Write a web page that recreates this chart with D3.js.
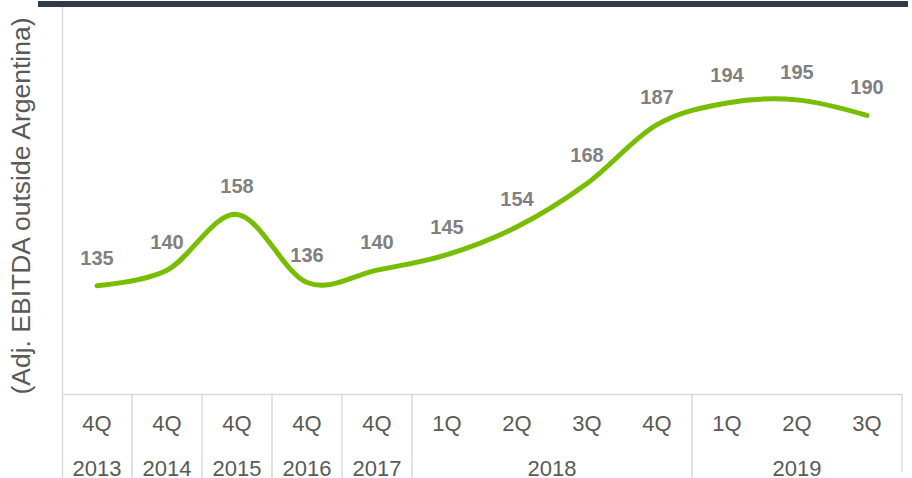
<!DOCTYPE html>
<html>
<head>
<meta charset="utf-8">
<script src="https://cdn.jsdelivr.net/npm/d3@7/dist/d3.min.js"></script>
<style>
  body { margin: 0; background: #fff; }
  svg { display: block; font-family: "Liberation Sans", Arial, sans-serif; }
</style>
</head>
<body>
<svg id="chart" width="912" height="478"></svg>
<script>
// chart data
var quarters = ["4Q", "4Q", "4Q", "4Q", "4Q", "1Q", "2Q", "3Q", "4Q", "1Q", "2Q", "3Q"];
var years = ["2013", "2014", "2015", "2016", "2017", "2018", "2018", "2018", "2018", "2019", "2019", "2019"];
var ebitda = [135, 140, 158, 136, 140, 145, 154, 168, 187, 194, 195, 190];
var axisTitle = "(Adj. EBITDA  outside Argentina)";

var svg = d3.select("#chart"),
    width = +svg.attr("width"),
    height = +svg.attr("height");

var plotLeft = 62, plotRight = 902, axisY = 394, plotTop = 7;

var idx = d3.range(quarters.length);
var x = d3.scaleBand().domain(idx).range([plotLeft, plotRight]);
var y = d3.scaleLinear().domain([100, 225]).range([axisY, plotTop]);

// dark band along the top
svg.append("rect")
    .attr("x", 38).attr("y", 1)
    .attr("width", width - 4 - 38).attr("height", 6)
    .attr("fill", "#2f3b46");

// y axis title
svg.append("text")
    .attr("transform", "translate(30," + 206 + ") rotate(-90)")
    .attr("text-anchor", "middle")
    .attr("fill", "#595959")
    .attr("font-size", 26.5)
    .text(axisTitle);

// axis lines
var grid = svg.append("g").attr("stroke", "#d9d9d9").attr("stroke-width", 1.5);
grid.append("line")
    .attr("x1", plotLeft + 0.5).attr("x2", plotLeft + 0.5)
    .attr("y1", plotTop).attr("y2", height);
grid.append("line")
    .attr("x1", plotLeft).attr("x2", plotRight)
    .attr("y1", axisY + 0.5).attr("y2", axisY + 0.5);

// group categories into year runs
var groups = [];
years.forEach(function (yr, i) {
    var g = groups[groups.length - 1];
    if (g && g.year == yr) { g.end = i; }
    else { groups.push({ year: yr, start: i, end: i }); }
});

grid.selectAll("line.sep")
    .data(groups)
    .enter().append("line")
    .attr("class", "sep")
    .attr("x1", function (d) { return x(d.end) + x.bandwidth(); })
    .attr("x2", function (d) { return x(d.end) + x.bandwidth(); })
    .attr("y1", axisY)
    .attr("y2", function (d, i) { return i == groups.length - 1 ? 472 : height; });

// quarter labels
svg.append("g").selectAll("text")
    .data(quarters)
    .enter().append("text")
    .attr("x", function (d, i) { return x(i) + x.bandwidth() / 2; })
    .attr("y", 431)
    .attr("text-anchor", "middle")
    .attr("fill", "#595959")
    .attr("font-size", 22)
    .text(function (d) { return d; });

// year labels
svg.append("g").selectAll("text")
    .data(groups)
    .enter().append("text")
    .attr("x", function (d) { return (x(d.start) + x(d.end) + x.bandwidth()) / 2; })
    .attr("y", 476)
    .attr("text-anchor", "middle")
    .attr("fill", "#595959")
    .attr("font-size", 22)
    .text(function (d) { return d.year; });

// smoothed line
var line = d3.line()
    .x(function (d, i) { return x(i) + x.bandwidth() / 2; })
    .y(function (d) { return y(d); })
    .curve(d3.curveCardinal.tension(0));

svg.append("path")
    .datum(ebitda)
    .attr("d", line)
    .attr("fill", "none")
    .attr("stroke", "#77bd00")
    .attr("stroke-width", 5)
    .attr("stroke-linecap", "round")
    .attr("stroke-linejoin", "round");

// value labels
svg.append("g").selectAll("text")
    .data(ebitda)
    .enter().append("text")
    .attr("x", function (d, i) { return x(i) + x.bandwidth() / 2; })
    .attr("y", function (d) { return y(d) - 21; })
    .attr("text-anchor", "middle")
    .attr("fill", "#808080")
    .attr("font-weight", "bold")
    .attr("font-size", 20)
    .text(function (d) { return d; });
</script>
</body>
</html>
